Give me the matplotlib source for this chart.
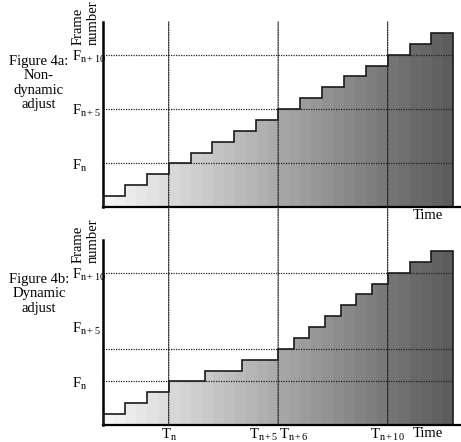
import matplotlib
matplotlib.use("Agg")
import matplotlib.pyplot as plt
import numpy as np
from matplotlib.patches import ConnectionPatch

plt.rcParams['font.family'] = ['Liberation Serif', 'DejaVu Serif']
plt.rcParams['mathtext.fontset'] = 'custom'
plt.rcParams['mathtext.rm'] = 'Liberation Serif'
plt.rcParams['mathtext.it'] = 'Liberation Serif:italic'

# ---- data ----
# top panel (Figure 4a, non-dynamic): frame shown in each time slot
edges_a = [0, 1, 2, 3, 4, 5, 6, 7, 8, 9, 10, 11, 12, 13, 14, 15, 16]
frames_a = [1, 2, 3, 4, 5, 6, 7, 8, 9, 10, 11, 12, 13, 14, 15, 16]
# bottom panel (Figure 4b, dynamic)
edges_b = [0, 1, 2, 3, 4.667, 6.333, 8, 8.714, 9.429, 10.143, 10.857,
           11.571, 12.286, 13, 14, 15, 16]
frames_b = [1, 2, 3, 4, 5, 6, 7, 8, 9, 10, 11, 12, 13, 14, 15, 16]

frame_ticks = [4, 9, 14]
frame_labels = [r'F$_{\mathrm{n}}$', r'F$_{\mathrm{n+5}}$', r'F$_{\mathrm{n+10}}$']
hlines_a = [4, 9, 14]
hlines_b = [4, 7, 14]
time_marks = [3, 8, 13]
time_ticks_b = [3, 8, 8.714, 13]
time_labels_b = [r'T$_{\mathrm{n}}$', r'T$_{\mathrm{n+5}}$', r'T$_{\mathrm{n+6}}$', r'T$_{\mathrm{n+10}}$']
time_ha_b = ['center', 'right', 'center', 'center']
panel_titles = ['Figure 4a:\nNon-\ndynamic\nadjust', 'Figure 4b:\nDynamic\nadjust']

W, H = 461, 442
fig = plt.figure(figsize=(W / 100, H / 100), dpi=100)

def px_axes(left, top, right, bottom):
    return fig.add_axes([left / W, 1 - bottom / H, (right - left) / W, (bottom - top) / H])

ax1 = px_axes(103, 22, 461, 207)
ax2 = px_axes(103, 240, 461, 425)

XMAX = 16.35
YMAX = 17
FS = 10.5
dot = (0, (1, 1))

# banded grey gradient
nb = 32
band = 0.97 - 0.62 * (np.arange(nb) + 0.5) / nb
grad = band[np.newaxis, :]

for ax, edges, frames, hl, title, ty in [
        (ax1, edges_a, frames_a, hlines_a, panel_titles[0], 83),
        (ax2, edges_b, frames_b, hlines_b, panel_titles[1], 294)]:
    ax.set_xlim(0, XMAX)
    ax.set_ylim(0, YMAX)
    for s in ['top', 'right']:
        ax.spines[s].set_visible(False)
    ax.spines['left'].set_linewidth(1.8)
    ax.spines['bottom'].set_linewidth(1.6)
    ax.patch.set_alpha(0)

    clip = ax.stairs(frames, edges, baseline=0, fill=True, facecolor='none',
                     edgecolor='none')
    im = ax.imshow(grad, cmap='gray', vmin=0, vmax=1, aspect='auto',
                   extent=(edges[0], edges[-1], 0, YMAX), interpolation='nearest',
                   zorder=1)
    im.set_clip_path(clip)
    ax.stairs(frames, edges, baseline=0, fill=False, color='#1a1a1a', lw=1.2, zorder=3)

    ax.hlines(hl, 0, edges[-1], colors='#222222', linestyles=dot, lw=0.9, zorder=4)

    ax.set_xticks([])
    ax.set_yticks(frame_ticks, frame_labels)
    ax.tick_params(axis='y', length=0, pad=22.3, labelsize=FS)
    for lab in ax.get_yticklabels():
        lab.set_ha('left')

    ax.text(14.84, -0.012, 'Time', transform=ax.get_xaxis_transform(),
            ha='center', va='top', fontsize=FS)
    ax.text(-0.048, 1.0 - 23 / 185, 'Frame\nnumber', transform=ax.transAxes,
            rotation=90, ha='center', va='bottom', multialignment='left',
            fontsize=FS, linespacing=1.2)
    fig.text(39 / W, 1 - ty / H, title, ha='center', va='center',
             multialignment='center', fontsize=FS, linespacing=1.15)

for x, s, ha in zip(time_ticks_b, time_labels_b, time_ha_b):
    ax2.text(x, -0.01, s, transform=ax2.get_xaxis_transform(),
             ha=ha, va='top', fontsize=FS)

for x in time_marks:
    cp = ConnectionPatch(xyA=(x, YMAX), coordsA=ax1.transData,
                         xyB=(x, 0), coordsB=ax2.transData,
                         color='#222222', linestyle=dot, lw=0.9, zorder=5)
    fig.add_artist(cp)

fig.savefig('out.png', dpi=100)
